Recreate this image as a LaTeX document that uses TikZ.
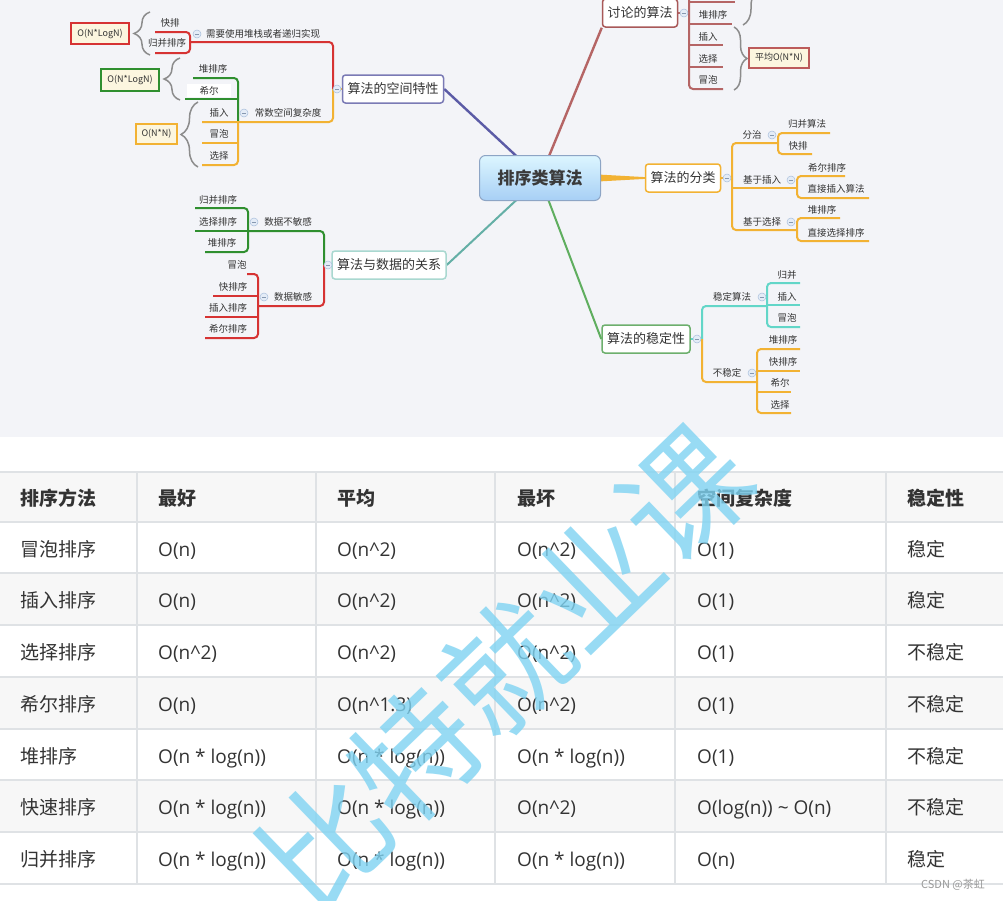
\documentclass[tikz,border=0pt]{standalone}
\usepackage{fontspec}
\setmainfont{Open Sans}
\newfontfamily\cjk{Noto Sans CJK SC}
\usetikzlibrary{decorations.pathreplacing}
\pgfdeclarelayer{bg}\pgfdeclarelayer{lines}\pgfsetlayers{bg,lines,main}
\definecolor{mapbg}{HTML}{F3F4F8}
\definecolor{txt}{HTML}{333333}
\definecolor{tgld}{HTML}{A8BEDC}
\definecolor{tglf}{HTML}{E4ECF7}
\definecolor{discc}{HTML}{B56565}
\definecolor{discb}{HTML}{A85858}
\definecolor{redc}{HTML}{D63333}
\definecolor{grnc}{HTML}{2F8F2F}
\definecolor{orgc}{HTML}{F2B233}
\definecolor{tealc}{HTML}{62D6C8}
\definecolor{purc}{HTML}{5B5BA6}
\definecolor{purb}{HTML}{7A7AB5}
\definecolor{tealm}{HTML}{64AFA6}
\definecolor{datab}{HTML}{A9D8D0}
\definecolor{grnm}{HTML}{5FAE5F}
\definecolor{stabb}{HTML}{6DAF6D}
\definecolor{cream}{HTML}{FCF6DF}
\definecolor{brc}{HTML}{8C8C8C}
\definecolor{wm}{HTML}{7FD3F2}
\definecolor{grid}{HTML}{DFE2E5}
\definecolor{rowg}{HTML}{F7F7F7}
\definecolor{rootb}{HTML}{8DA5C5}
\newcommand\fs[1]{\fontsize{#1}{#1}\selectfont}
\newcommand\trow[8]{%
  \node[tcj] (r#1c1) at (20,#2) {#3};
  \node[tla] (r#1c2) at (158,#2) {#4};
  \node[tla] (r#1c3) at (337,#2) {#5};
  \node[tla] (r#1c4) at (517,#2) {#6};
  \node[tla] (r#1c5) at (697,#2) {#7};
  \node[tcj] (r#1c6) at (907,#2) {#8};
}
\newcommand\pw{\textasciicircum}
\begin{document}
\begin{tikzpicture}[x=1pt,y=-1pt,
  leaf/.style={font=\cjk\fs{9.5}, text=txt, inner sep=0pt},
  topic/.style={draw, fill=white, rounded corners=3pt, line width=1.5pt, font=\cjk\fs{13}, text=txt, minimum height=28pt, inner xsep=5pt, inner ysep=0pt},
  obox/.style={draw, fill=cream, line width=1.5pt, font=\cjk\fs{9}, text=txt, inner sep=0pt, minimum height=21pt},
  ln/.style={line width=2pt, rounded corners=4pt},
  toggle/.style={circle, draw=tgld, fill=tglf, line width=0.5pt, minimum size=8pt, inner sep=0pt,
    path picture={\draw[tgld!80!black, line width=0.7pt] ([xshift=-2.2pt]path picture bounding box.center) -- ([xshift=2.2pt]path picture bounding box.center);}},
  brcs/.style={draw=brc, line width=1.5pt, decorate, decoration={brace, amplitude=#1}},
  tla/.style={anchor=base west, inner sep=0pt, text=txt, font=\fs{19}},
  tcj/.style={anchor=base west, inner sep=0pt, text=txt, font=\cjk\fs{19}},
  thd/.style={anchor=base west, inner sep=0pt, text=txt, font=\cjk\bfseries\fs{19}}
]
\useasboundingbox (0,0) rectangle (1003,900);
\clip (0,0) rectangle (1003,900);
\begin{pgfonlayer}{bg}
  \fill[white] (0,0) rectangle (1003,900);
  \fill[mapbg] (0,0) rectangle (1003,437);
\end{pgfonlayer}

% ---------- root and topics ----------
\node[draw=rootb, line width=1pt, rounded corners=6pt, top color=blue!4!white!90!cyan, bottom color={rgb,255:red,167;green,207;blue,245},
      minimum width=121pt, minimum height=45pt, font=\cjk\bfseries\fs{17}, text={rgb,255:red,58;green,58;blue,58}] (root) at (540,178) {排序类算法};
\node[topic, draw=discb] (disc) at (640,13) {讨论的算法};
\node[topic, draw=purb] (space) at (393,89) {算法的空间特性};
\node[topic, draw=orgc] (class) at (683,178) {算法的分类};
\node[topic, draw=datab] (data) at (389,265) {算法与数据的关系};
\node[topic, draw=stabb] (stab) at (646,339) {算法的稳定性};

\begin{pgfonlayer}{lines}
  \draw[line width=2.4pt, discc] (root.center) -- (disc.south west);
  \draw[line width=2.4pt, purc] (root.center) -- (space.east);
  \draw[line width=2pt, tealm] (root.center) -- (data.east);
  \draw[line width=2pt, grnm] (root.center) -- (stab.west);
  \fill[orgc] (598,174.5) -- ([yshift=0.9pt]class.west) -- ([yshift=-0.9pt]class.west) -- (598,181.5) -- cycle;

  % discussed algorithms
  \draw[ln, discc] (disc.east) -- (689,13);
  \draw[ln, discc] (689,-30) -- (689,89) -- (723,89);
  \draw[ln, discc] (689,2) -- (735,2);
  \draw[ln, discc] (689,24) -- (732,24);
  \draw[ln, discc] (689,45) -- (723,45);
  \draw[ln, discc] (689,67) -- (723,67);

  % space
  \draw[ln, orgc] (space.west) -- (333,89);
  \draw[ln, redc] (333,89) -- (333,42) -- (190,42);
  \draw[ln, redc] (155,32) -- (190,32) -- (190,53) -- (155,53);
  \draw[ln, grnc] (193,78) -- (238,78) -- (238,122);
  \draw[ln, grnc] (185,99) -- (238,99);
  \draw[ln, orgc] (333,89) -- (333,122) -- (202,122);
  \draw[ln, orgc] (238,122) -- (238,165) -- (202,165);
  \draw[ln, orgc] (202,143) -- (238,143);

  % classification
  \draw[ln, orgc] (class.east) -- (732,178);
  \draw[ln, orgc] (778,143) -- (732,143) -- (732,230) -- (797,230);
  \draw[ln, orgc] (732,188) -- (797,188);
  \draw[ln, orgc] (830,133) -- (778,133) -- (778,154) -- (812,154);
  \draw[ln, orgc] (845,176) -- (797,176) -- (797,198) -- (869,198);
  \draw[ln, orgc] (840,218) -- (797,218) -- (797,241) -- (869,241);

  % data relation
  \draw[ln, tealm!60] (data.west) -- (324,265);
  \draw[ln, grnc] (324,265) -- (324,231) -- (248,231);
  \draw[ln, redc] (324,265) -- (324,306) -- (258,306);
  \draw[ln, grnc] (195,208) -- (248,208) -- (248,252) -- (205,252);
  \draw[ln, grnc] (195,231) -- (248,231);
  \draw[ln, redc] (247,274) -- (258,274) -- (258,338) -- (205,338);
  \draw[ln, redc] (213,296) -- (258,296);
  \draw[ln, redc] (205,317) -- (258,317);

  % stability
  \draw[ln, tealc] (stab.east) -- (702,339);
  \draw[ln, tealc] (702,339) -- (702,306) -- (767,306);
  \draw[ln, tealc] (800,283) -- (767,283) -- (767,327) -- (800,327);
  \draw[ln, tealc] (767,305) -- (800,305);
  \draw[ln, orgc] (702,339) -- (702,382) -- (757,382);
  \draw[ln, orgc] (800,349) -- (757,349) -- (757,413) -- (791,413);
  \draw[ln, orgc] (757,371) -- (800,371);
  \draw[ln, orgc] (757,392) -- (791,392);
\end{pgfonlayer}

% braces
\draw[brcs=16pt] (150,55) -- (150,12);
\draw[brcs=16pt] (180,100) -- (180,58);
\draw[brcs=17pt] (198,167) -- (198,102);
\draw[brcs=13pt] (734,27) -- (734,90);
\draw[brcs=16pt] (743,-45) -- (743,25);

% boxes
\node[obox, draw=redc, minimum width=58pt] (b1) at (100,33.5) {O(N*LogN)};
\node[obox, draw=grnc, minimum width=58pt, minimum height=22pt] (b2) at (130,80) {O(N*LogN)};
\node[obox, draw=orgc, minimum width=41pt, minimum height=20pt] (b3) at (156.5,134) {O(N*N)};
\node[obox, draw=discc!90!red, minimum width=60pt, minimum height=20pt] (b4) at (779,58) {平均O(N*N)};

% leaves: discussed
\node[leaf] (d1) at (713,15) {堆排序};
\node[leaf] (d2) at (708,37) {插入};
\node[leaf] (d3) at (708,59) {选择};
\node[leaf] (d4) at (708,80) {冒泡};
% leaves: space
\node[leaf] (s0) at (263,34) {需要使用堆栈或者递归实现};
\node[leaf] (s1) at (170,23) {快排};
\node[leaf] (s2) at (167,43) {归并排序};
\node[leaf] (s3) at (213,69) {堆排序};
\node[leaf, fill=white, minimum width=44pt, minimum height=13pt] (s4) at (209,90.5) {希尔};
\node[leaf] (s5) at (288,113) {常数空间复杂度};
\node[leaf] (s6) at (219,113) {插入};
\node[leaf] (s7) at (219,134) {冒泡};
\node[leaf] (s8) at (219,156) {选择};
% leaves: classification
\node[leaf] (c1) at (752,135) {分治};
\node[leaf] (c2) at (807,124) {归并算法};
\node[leaf] (c3) at (798,146) {快排};
\node[leaf] (c4) at (762,180) {基于插入};
\node[leaf] (c5) at (827,168) {希尔排序};
\node[leaf] (c6) at (836,189) {直接插入算法};
\node[leaf] (c7) at (762,222) {基于选择};
\node[leaf] (c8) at (822,210) {堆排序};
\node[leaf] (c9) at (836,233) {直接选择排序};
% leaves: data
\node[leaf] (a1) at (288,222) {数据不敏感};
\node[leaf] (a2) at (218,200) {归并排序};
\node[leaf] (a3) at (218,222) {选择排序};
\node[leaf] (a4) at (222,243) {堆排序};
\node[leaf] (a5) at (293,297) {数据敏感};
\node[leaf] (a6) at (237,265) {冒泡};
\node[leaf] (a7) at (233,287) {快排序};
\node[leaf] (a8) at (228,308) {插入排序};
\node[leaf] (a9) at (228,329) {希尔排序};
% leaves: stability
\node[leaf] (t1) at (732,297) {稳定算法};
\node[leaf] (t2) at (787,275) {归并};
\node[leaf] (t3) at (787,297) {插入};
\node[leaf] (t4) at (787,318) {冒泡};
\node[leaf] (t5) at (727,373) {不稳定};
\node[leaf] (t6) at (783,340) {堆排序};
\node[leaf] (t7) at (783,362) {快排序};
\node[leaf] (t8) at (780,383) {希尔};
\node[leaf] (t9) at (780,405) {选择};

% toggles
\foreach \p [count=\i] in {(684,13),(337,89),(727,178),(328,265),(697,339),(197,34),(244,113),(772,135),(791,180),(791,222),(254,222),(264,297),(762,297),(752,373)}
  \node[toggle] (tg\i) at \p {};

% ---------- table ----------
\fill[rowg] (0,472) rectangle (1003,522);
\fill[rowg] (0,573) rectangle (1003,625);
\fill[rowg] (0,677) rectangle (1003,729);
\fill[rowg] (0,780) rectangle (1003,832);
\foreach \yy in {472,522,573,625,677,729,780,832,884}
  \draw[grid, line width=2pt] (0,\yy) -- (1003,\yy);
\foreach \xx in {137,316,495,675,886}
  \draw[grid, line width=2pt] (\xx,472) -- (\xx,884);

\node[thd] (h1) at (20,505.5) {排序方法};
\node[thd] (h2) at (158,505.5) {最好};
\node[thd] (h3) at (337,505.5) {平均};
\node[thd] (h4) at (517,505.5) {最坏};
\node[thd] (h5) at (697,505.5) {空间复杂度};
\node[thd] (h6) at (907,505.5) {稳定性};

\trow{1}{556}{冒泡排序}{O(n)}{O(n\pw2)}{O(n\pw2)}{O(1)}{稳定}
\trow{2}{607.5}{插入排序}{O(n)}{O(n\pw2)}{O(n\pw2)}{O(1)}{稳定}
\trow{3}{659.5}{选择排序}{O(n\pw2)}{O(n\pw2)}{O(n\pw2)}{O(1)}{不稳定}
\trow{4}{711.5}{希尔排序}{O(n)}{O(n\pw1.3)}{O(n\pw2)}{O(1)}{不稳定}
\trow{5}{763}{堆排序}{O(n * log(n))}{O(n * log(n))}{O(n * log(n))}{O(1)}{不稳定}
\trow{6}{814.5}{快速排序}{O(n * log(n))}{O(n * log(n))}{O(n\pw2)}{O(log(n)) \textasciitilde\ O(n)}{不稳定}
\trow{7}{866.5}{归并排序}{O(n * log(n))}{O(n * log(n))}{O(n * log(n))}{O(n)}{稳定}

% watermark and credit
\node[rotate=44, text=wm, opacity=0.8, font=\cjk\fs{125}, inner sep=0pt] (wmark) at (505,668) {比特就业课};
\node[font=\cjk\fs{11}, text=black!40, inner sep=0pt] (credit) at (953,885) {CSDN @茶虹};
\end{tikzpicture}
\end{document}
